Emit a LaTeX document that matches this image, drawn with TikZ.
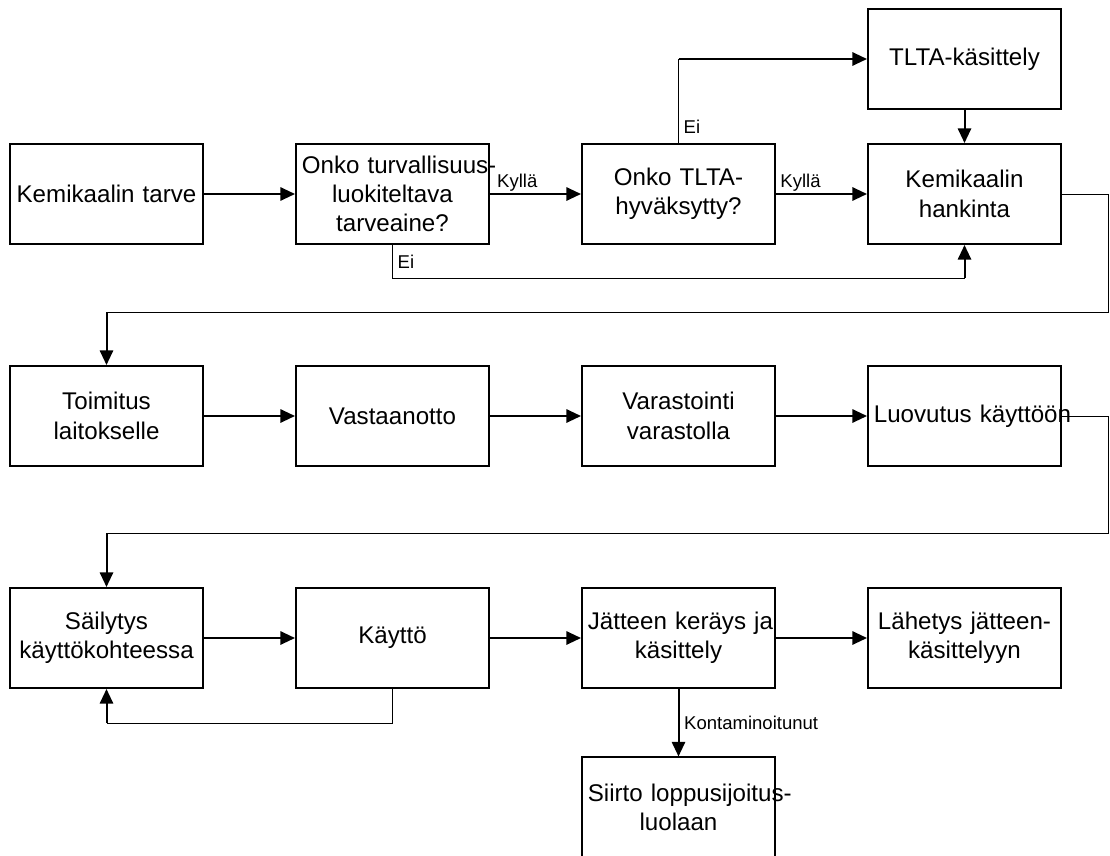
\documentclass[tikz,border=0pt]{standalone}
\usepackage{fontspec}
\setmainfont{Liberation Sans}
\usepackage{tikz}
\usetikzlibrary{arrows.meta}
\usetikzlibrary{positioning}
\tikzset{>={Triangle[length=11pt,width=10pt]}}
\tikzset{flow-line/.style={line width=1.5pt}}
\tikzset{flow-thin/.style={line width=0.75pt}}
\tikzset{flow-node/.style={draw, line width=1.5pt, minimum width=144.75pt, minimum height=75pt, text width=136pt, inner xsep=4.375pt, inner ysep=2pt, align=center, font=\fontsize{18.1pt}{22pt}\selectfont}}
\tikzset{flow-label/.style={inner sep=1.5pt, font=\fontsize{13.9pt}{16pt}\selectfont}}

\begin{document}
\begin{tikzpicture}[]
            \useasboundingbox (0,0) rectangle (832.5pt,-642pt);

            \node[flow-node] (tarve) at (79.875pt,-145.5pt) {\mbox{Kemikaalin tarve}};
            \node[flow-node, right=68.25pt of tarve] (onko1) {\mbox{Onko turvallisuus-}\\luokiteltava\\tarveaine?};
            \node[flow-node, right=68.25pt of onko1] (onko2) {Onko TLTA-\\hyväksytty?};
            \node[flow-node, right=68.25pt of onko2] (hankinta) {Kemikaalin\\hankinta};
            \node[flow-node, above=24.75pt of hankinta] (tlta) {TLTA-käsittely};

            \node[flow-node, below=90pt of tarve] (toimitus) {Toimitus\\laitokselle};
            \node[flow-node, right=68.25pt of toimitus] (vastaanotto) {Vastaanotto};
            \node[flow-node, right=68.25pt of vastaanotto] (varastointi) {Varastointi\\varastolla};
            \node[flow-node, right=68.25pt of varastointi] (luovutus) {\mbox{Luovutus käyttöön}};

            \node[flow-node, below=90pt of toimitus] (sailytys) {Säilytys\\\mbox{käyttökohteessa}};
            \node[flow-node, right=68.25pt of sailytys] (kaytto) {Käyttö};
            \node[flow-node, right=68.25pt of kaytto] (jatteen) {\mbox{Jätteen keräys ja}\\käsittely};
            \node[flow-node, right=68.25pt of jatteen] (lahetys) {\mbox{Lähetys jätteen-}\\käsittelyyn};
            \node[flow-node, below=50.6pt of jatteen] (siirto) {\mbox{Siirto loppusijoitus-}\\luolaan};

            \coordinate (ei1) at ([yshift=-24.75pt]onko1.south);
            \coordinate (ei1b) at (ei1 -| hankinta.south);
            \coordinate (ei2) at (onko2.north |- tlta.west);
            \coordinate (r1) at ([xshift=35pt]hankinta.east);
            \coordinate (t1) at ([yshift=39.75pt]toimitus.north);
            \coordinate (r2) at ([xshift=35pt]luovutus.east);
            \coordinate (s1) at ([yshift=40.5pt]sailytys.north);
            \coordinate (k1) at ([yshift=-25.5pt]kaytto.south);
            \coordinate (k2) at (k1 -| sailytys.south);

            \draw[->, flow-line] (tarve) -- (onko1);
            \draw[->, flow-line] (onko1) -- node[flow-label, above, pos=0.3] {Kyllä} (onko2);
            \draw[->, flow-line] (onko2) -- node[flow-label, above, pos=0.27] {Kyllä} (hankinta);

            \draw[flow-thin] (onko2.north) -- node[flow-label, right=2pt, pos=0.19] {Ei} (ei2);
            \draw[->, flow-line] (ei2) -- (tlta.west);
            \draw[->, flow-line] (tlta) -- (hankinta);

            \draw[flow-thin] (onko1.south) -- node[flow-label, right=2pt] {Ei} (ei1) -- (ei1b);
            \draw[->, flow-line] (ei1b) -- (hankinta.south);

            \draw[flow-thin] (hankinta.east) -- (r1) |- (t1);
            \draw[->, flow-line] (t1) -- (toimitus.north);

            \draw[->, flow-line] (toimitus) -- (vastaanotto);
            \draw[->, flow-line] (vastaanotto) -- (varastointi);
            \draw[->, flow-line] (varastointi) -- (luovutus);

            \draw[flow-thin] (luovutus.east) -- (r2) |- (s1);
            \draw[->, flow-line] (s1) -- (sailytys.north);

            \draw[->, flow-line] (sailytys) -- (kaytto);
            \draw[->, flow-line] (kaytto) -- (jatteen);
            \draw[->, flow-line] (jatteen) -- (lahetys);

            \draw[flow-thin] (kaytto.south) -- (k1) -- (k2);
            \draw[->, flow-line] (k2) -- (sailytys.south);

            \draw[->, flow-line] (jatteen) -- node[flow-label, right=2pt] {Kontaminoitunut} (siirto);

        \end{tikzpicture}
\end{document}
